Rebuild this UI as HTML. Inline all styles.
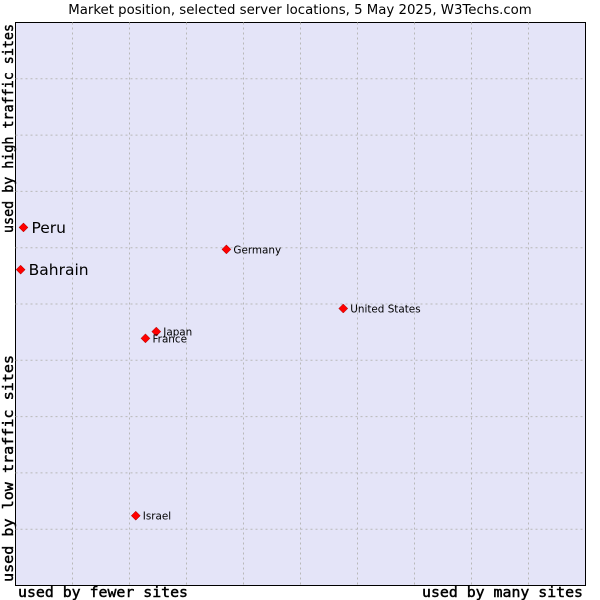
<!DOCTYPE html>
<html><head><meta charset="utf-8"><style>
body{margin:0;background:#fff;width:600px;height:600px;overflow:hidden}
svg{display:block}
.ax{font-family:"DejaVu Sans Mono","Liberation Mono",monospace;font-size:14.5px;stroke:#000;stroke-width:0.45}
</style></head><body>
<svg width="600" height="600" xmlns="http://www.w3.org/2000/svg">
<text x="300" y="14" text-anchor="middle" font-family="DejaVu Sans, sans-serif" font-size="13.3" fill="#000">Market position, selected server locations, 5 May 2025, W3Techs.com</text>
<rect x="15.5" y="22.5" width="570" height="563" fill="#e4e4f8" stroke="#000" stroke-width="1"/>
<g id="grid"></g>
<g id="pts"></g>
<text class="ax" x="18" y="597" textLength="170" lengthAdjust="spacingAndGlyphs">used by fewer sites</text>
<text class="ax" x="422" y="597" textLength="161" lengthAdjust="spacingAndGlyphs">used by many sites</text>
<text class="ax" transform="translate(13,582) rotate(-90)" textLength="227" lengthAdjust="spacingAndGlyphs">used by low traffic sites</text>
<text class="ax" transform="translate(13,233) rotate(-90)" textLength="209" lengthAdjust="spacingAndGlyphs">used by high traffic sites</text>
</svg>
<script>
const names=["Peru","Bahrain","Germany","United States","Japan","France","Israel"];
const xs=[1.4,0.9,37,57.5,24.7,22.8,21.1];
const ys=[63.6,56.1,59.7,49.2,45.1,43.9,12.4];
const big=[true,true,false,false,false,false,false];
const L=15.5,T=22.5,W=570,H=563;
const sx=v=>L+v/100*W, sy=v=>T+H-v/100*H;
const NS="http://www.w3.org/2000/svg";
const g=document.getElementById('grid'), p=document.getElementById('pts');
for(let i=1;i<10;i++){
  const v=document.createElementNS(NS,'line');
  v.setAttribute('x1',sx(i*10));v.setAttribute('x2',sx(i*10));v.setAttribute('y1',T);v.setAttribute('y2',T+H);
  v.setAttribute('stroke','#b8b8b8');v.setAttribute('stroke-dasharray','2,3');
  
  
  g.appendChild(v);
  const h=document.createElementNS(NS,'line');
  h.setAttribute('y1',sy(i*10));h.setAttribute('y2',sy(i*10));h.setAttribute('x1',L);h.setAttribute('x2',L+W);
  h.setAttribute('stroke','#b8b8b8');h.setAttribute('stroke-dasharray','2,3');
  
  
  g.appendChild(h);
}
names.forEach((n,i)=>{
  const x=sx(xs[i]),y=sy(ys[i]);
  const d=document.createElementNS(NS,'path');
  d.setAttribute('d',`M${x} ${y-4.5}L${x+4.5} ${y}L${x} ${y+4.5}L${x-4.5} ${y}Z`);
  d.setAttribute('fill','#f00');d.setAttribute('stroke','#900');d.setAttribute('stroke-width','0.5');
  
  
  p.appendChild(d);
  const t=document.createElementNS(NS,'text');
  t.setAttribute('x',x+(big[i]?8:7));t.setAttribute('y',y+(big[i]?5.5:4));
  t.setAttribute('font-family','DejaVu Sans, sans-serif');
  t.setAttribute('font-size',big[i]?'15.5':'10.4');
  t.textContent=n;
  
  
  p.appendChild(t);
});
</script>
</body></html>
